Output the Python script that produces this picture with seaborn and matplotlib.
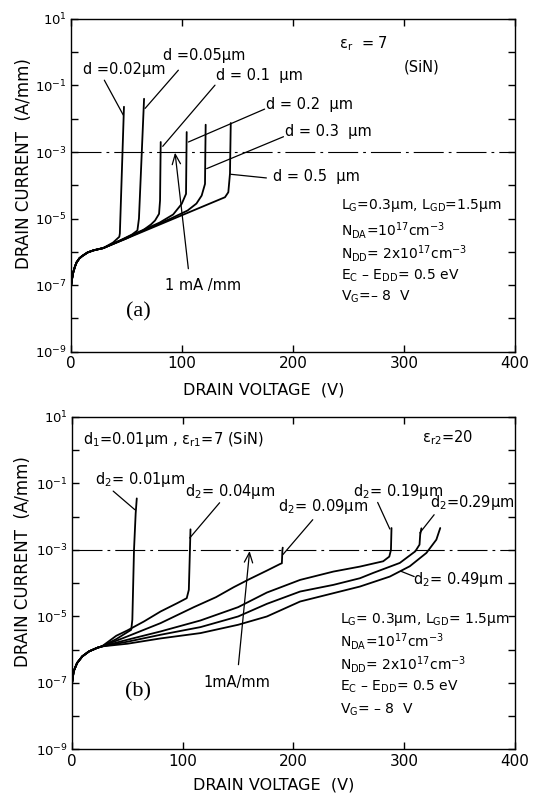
import numpy as np
import pandas as pd
import matplotlib
matplotlib.use("Agg")
import matplotlib.pyplot as plt
from matplotlib.ticker import NullLocator
import seaborn as sns

# ---------------- data (V in volts, log10 of A/mm) ----------------
LIMIT_CURRENT = 1e-3  # 1 mA/mm breakdown criterion

# panel (a): single SiN passivation, thickness d
A_BASE_V = [0, 1, 2, 3.5, 5, 7.5, 10, 15, 20, 25, 29]
A_BASE_LOG = [-7.05, -6.8, -6.62, -6.45, -6.32, -6.2, -6.13, -6.02, -5.96, -5.92, -5.89]

A_V_002 = [38, 43.5, 44, 47.7]
A_LOG_002 = [-5.72, -5.55, -5.45, -1.64]
A_V_005 = [45, 55, 59.8, 61.2, 65.8]
A_LOG_005 = [-5.65, -5.48, -5.36, -5.0, -1.40]
A_V_01 = [50, 65, 72, 75.7, 79.3, 80.2, 80.8]
A_LOG_01 = [-5.6, -5.35, -5.18, -5.06, -4.86, -4.46, -2.70]
A_V_02 = [60, 80, 92, 99.7, 103.6, 104.0, 104.2]
A_LOG_02 = [-5.42, -5.12, -4.88, -4.56, -4.26, -3.0, -2.40]
A_V_03 = [60, 90, 105, 113, 117.7, 120.7, 121.0, 121.3]
A_LOG_03 = [-5.44, -5.0, -4.76, -4.55, -4.31, -3.96, -3.0, -2.18]
A_V_05 = [60, 100, 138.7, 141.7, 143.2, 143.5, 143.9]
A_LOG_05 = [-5.46, -4.90, -4.36, -4.21, -3.65, -3.0, -2.13]

# panel (b): SiN (d1 = 0.01 um) + high-k layer, thickness d2
B_BASE_V = [0, 1.5, 4.6, 9.3, 15.4, 23, 27]
B_BASE_LOG = [-7.02, -6.65, -6.4, -6.2, -6.05, -5.94, -5.90]

B_V_001 = [40, 53.5, 54.5, 56, 57.5, 58.5]
B_LOG_001 = [-5.68, -5.40, -5.1, -3.0, -1.9, -1.45]
B_V_004 = [40, 50, 65, 80, 95, 103.6, 105.5, 106, 106.5, 107]
B_LOG_004 = [-5.58, -5.42, -5.15, -4.85, -4.6, -4.45, -4.2, -3.6, -3.0, -2.38]
B_V_009 = [50, 80, 110, 130, 146, 160, 176, 188, 189.5, 190, 190.3]
B_LOG_009 = [-5.6, -5.2, -4.72, -4.42, -4.12, -3.88, -3.62, -3.42, -3.40, -3.0, -2.93]
B_V_019 = [50, 80, 116, 150, 176, 206, 236, 260, 281, 286.5, 288, 288.5]
B_LOG_019 = [-5.70, -5.45, -5.12, -4.72, -4.28, -3.9, -3.65, -3.5, -3.34, -3.2, -3.0, -2.34]
B_V_029 = [50, 80, 116, 150, 176, 206, 236, 260, 272, 296, 310, 313.8, 314.4, 315.5]
B_LOG_029 = [-5.76, -5.55, -5.32, -5.0, -4.62, -4.25, -4.05, -3.85, -3.69, -3.39, -3.04, -2.84, -2.54, -2.35]
B_V_049 = [50, 80, 116, 150, 176, 206, 236, 260, 287, 305, 320, 329, 332.5]
B_LOG_049 = [-5.82, -5.66, -5.5, -5.25, -5.0, -4.55, -4.3, -4.1, -3.8, -3.49, -3.09, -2.69, -2.34]

A_LABELS = ["d =0.02\u03bcm", "d =0.05\u03bcm", "d = 0.1  \u03bcm",
            "d = 0.2  \u03bcm", "d = 0.3  \u03bcm", "d = 0.5  \u03bcm"]
B_LABELS = ["d$_2$= 0.01\u03bcm", "d$_2$= 0.04\u03bcm", "d$_2$= 0.09\u03bcm",
            "d$_2$= 0.19\u03bcm", "d$_2$=0.29\u03bcm", "d$_2$= 0.49\u03bcm"]
A_PARAMS = ["L$_G$=0.3\u03bcm, L$_{GD}$=1.5\u03bcm", "N$_{DA}$=10$^{17}$cm$^{-3}$",
            "N$_{DD}$= 2x10$^{17}$cm$^{-3}$", "E$_C$ \u2013 E$_{DD}$= 0.5 eV", "V$_G$=\u2013 8  V"]
B_PARAMS = ["L$_G$= 0.3\u03bcm, L$_{GD}$= 1.5\u03bcm", "N$_{DA}$=10$^{17}$cm$^{-3}$",
            "N$_{DD}$= 2x10$^{17}$cm$^{-3}$", "E$_C$ \u2013 E$_{DD}$= 0.5 eV", "V$_G$= \u2013 8  V"]

# ---------------- layout (data coords: V, log10 I) ----------------
A_LABEL_POS = [(10.5, -0.51), (83, -0.11), (131, -0.69), (176, -1.56), (193, -2.39), (182, -3.75)]
A_LEADERS = [((30, -0.84), (47.1, -1.89)), ((96.7, -0.54), (66.7, -1.69)),
             ((129.7, -0.99), (82.6, -2.83)), ((174.4, -1.71), (105.7, -2.70)),
             ((191.4, -2.54), (122.2, -3.50)), ((176, -3.78), (143.9, -3.67))]
B_LABEL_POS = [(20.7, -0.88), (101.8, -1.23), (186, -1.69), (253.4, -1.23), (323, -1.58), (308, -3.9)]
B_LEADERS = [((37.2, -1.23), (56.8, -1.79)), ((133.3, -1.58), (106.3, -2.64)),
             ((217.4, -2.09), (190.4, -3.14)), ((276, -1.57), (287, -2.37)),
             ((327, -1.94), (314, -2.49)), ((309, -3.80), (297, -3.64))]


def build_frame(base_v, base_log, tails, names):
    rows = []
    for name, (tv, tl) in zip(names, tails):
        v = list(base_v) + list(tv)
        lg = list(base_log) + list(tl)
        for x, y in zip(v, lg):
            rows.append({"curve": name, "V": x, "I": 10.0 ** y})
    return pd.DataFrame(rows)


df_a = build_frame(A_BASE_V, A_BASE_LOG,
                   [(A_V_002, A_LOG_002), (A_V_005, A_LOG_005), (A_V_01, A_LOG_01),
                    (A_V_02, A_LOG_02), (A_V_03, A_LOG_03), (A_V_05, A_LOG_05)],
                   A_LABELS)
df_b = build_frame(B_BASE_V, B_BASE_LOG,
                   [(B_V_001, B_LOG_001), (B_V_004, B_LOG_004), (B_V_009, B_LOG_009),
                    (B_V_019, B_LOG_019), (B_V_029, B_LOG_029), (B_V_049, B_LOG_049)],
                   B_LABELS)

sns.set_theme(style="ticks")
plt.rcParams["font.family"] = ["DejaVu Sans"]
plt.rcParams["mathtext.default"] = "regular"
plt.rcParams["axes.linewidth"] = 1.0
plt.rcParams["text.color"] = "black"
plt.rcParams["axes.labelcolor"] = "black"
plt.rcParams["xtick.color"] = "black"
plt.rcParams["ytick.color"] = "black"

fig = plt.figure(figsize=(5.36, 7.98), dpi=100)
ax_a = fig.add_axes([0.1325, 0.5595, 0.8284, 0.4167])
ax_b = fig.add_axes([0.1343, 0.0608, 0.8265, 0.4167])

TXT = 10.5
PTXT = 10


def L(y):
    return 10.0 ** y


def style_axis(ax):
    ax.set_yscale("log")
    ax.set_xlim(0, 400)
    ax.set_ylim(1e-9, 1e1)
    ax.set_xticks([0, 100, 200, 300, 400])
    ax.set_xticklabels(["0", "100", "200", "300", "400"], fontsize=11)
    decades = list(range(-9, 2))
    ax.set_yticks([10.0 ** k for k in decades])
    ax.set_yticklabels([f"10$^{{{k}}}$" if k % 2 else "" for k in decades], fontsize=9.5)
    ax.yaxis.set_minor_locator(NullLocator())
    ax.tick_params(axis="both", which="major", direction="in", length=5, width=1,
                   top=True, right=True, colors="black", pad=3)
    for s in ax.spines.values():
        s.set_color("black")
        s.set_linewidth(1.0)
    ax.axhline(LIMIT_CURRENT, color="black", lw=0.8, dashes=(27, 4.5, 2.5, 4.5))
    ax.set_xlabel("DRAIN VOLTAGE  (V)", fontsize=11.5)
    ax.set_ylabel("DRAIN CURRENT  (A/mm)", fontsize=12)


def leader(ax, p0, p1):
    ax.annotate("", xy=(p1[0], L(p1[1])), xytext=(p0[0], L(p0[1])),
                arrowprops=dict(arrowstyle="-", lw=0.9, color="black", shrinkA=0, shrinkB=0))


# ---------------- panel (a) ----------------
sns.lineplot(data=df_a, x="V", y="I", units="curve", estimator=None, sort=False,
             color="black", lw=1.3, ax=ax_a, legend=False)
style_axis(ax_a)
ax_a.xaxis.set_label_coords(0.434, -0.092)
ax_a.yaxis.set_label_coords(-0.086, 0.564)
for txt, (x, y) in zip(A_LABELS, A_LABEL_POS):
    ax_a.text(x, L(y), txt, fontsize=TXT, ha="left", va="center")
for p0, p1 in A_LEADERS:
    leader(ax_a, p0, p1)
ax_a.text(241, L(0.27), "\u03b5$_r$  = 7", fontsize=TXT, ha="left", va="center")
ax_a.text(300, L(-0.44), "(SiN)", fontsize=TXT, ha="left", va="center")
for txt, y in zip(A_PARAMS, [-4.60, -5.36, -6.04, -6.71, -7.36]):
    ax_a.text(243, L(y), txt, fontsize=PTXT, ha="left", va="center")
ax_a.text(61, L(-7.82), "(a)", fontsize=16, family="Liberation Serif", ha="center", va="center")
ax_a.text(119, L(-7.01), "1 mA /mm", fontsize=TXT, ha="center", va="center")
ax_a.annotate("", xy=(93.7, L(-3.02)), xytext=(105.7, L(-6.51)),
              arrowprops=dict(arrowstyle="->,head_length=0.6,head_width=0.25", lw=0.9,
                              color="black", shrinkA=0, shrinkB=0))

# ---------------- panel (b) ----------------
sns.lineplot(data=df_b, x="V", y="I", units="curve", estimator=None, sort=False,
             color="black", lw=1.3, ax=ax_b, legend=False)
style_axis(ax_b)
ax_b.xaxis.set_label_coords(0.456, -0.085)
ax_b.yaxis.set_label_coords(-0.090, 0.564)
for txt, (x, y) in zip(B_LABELS, B_LABEL_POS):
    ax_b.text(x, L(y), txt, fontsize=TXT, ha="left", va="center")
for p0, p1 in B_LEADERS:
    leader(ax_b, p0, p1)
ax_b.text(10.2, L(0.32), "d$_1$=0.01\u03bcm , \u03b5$_{r1}$=7 (SiN)", fontsize=TXT, ha="left", va="center")
ax_b.text(316, L(0.37), "\u03b5$_{r2}$=20", fontsize=TXT, ha="left", va="center")
for txt, y in zip(B_PARAMS, [-5.10, -5.75, -6.45, -7.13, -7.81]):
    ax_b.text(242, L(y), txt, fontsize=PTXT, ha="left", va="center")
ax_b.text(60, L(-7.26), "(b)", fontsize=16, family="Liberation Serif", ha="center", va="center")
ax_b.text(148.6, L(-7.0), "1mA/mm", fontsize=TXT, ha="center", va="center")
ax_b.annotate("", xy=(160.4, L(-3.03)), xytext=(150.3, L(-6.45)),
              arrowprops=dict(arrowstyle="->,head_length=0.6,head_width=0.25", lw=0.9,
                              color="black", shrinkA=0, shrinkB=0))

fig.savefig("out.png", dpi=100, facecolor="white")
